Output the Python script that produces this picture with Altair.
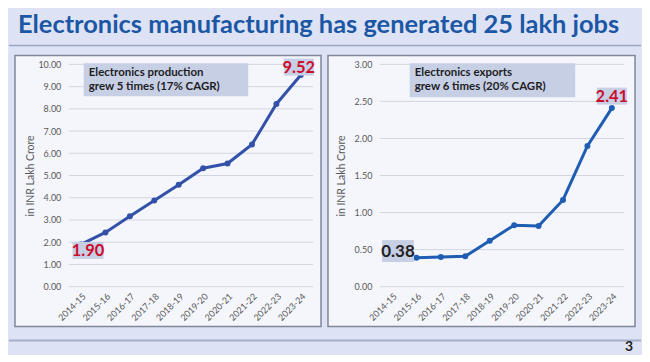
import altair as alt
import pandas as pd

# ---------------- data ----------------
years = ["2014-15", "2015-16", "2016-17", "2017-18", "2018-19",
         "2019-20", "2020-21", "2021-22", "2022-23", "2023-24"]
production = [1.90, 2.44, 3.17, 3.88, 4.58, 5.33, 5.54, 6.40, 8.22, 9.52]
exports = [0.38, 0.39, 0.40, 0.41, 0.62, 0.83, 0.82, 1.17, 1.90, 2.41]

title_text = "Electronics manufacturing has generated 25 lakh jobs"
left_note = ["Electronics production", "grew 5 times (17% CAGR)"]
right_note = ["Electronics exports", "grew 6 times (20% CAGR)"]
y_title = "in INR Lakh Crore"
page_number = "3"
left_ticks = [0, 1, 2, 3, 4, 5, 6, 7, 8, 9, 10]
right_ticks = [0, 0.5, 1.0, 1.5, 2.0, 2.5, 3.0]

# ---------------- style ----------------
FONT = "Lato"
BG = "#dde3f4"
PANEL_FILL = "#f4f6fc"
PANEL_STROKE = "#7f8799"
NOTE_FILL = "#c7cfe5"
AXIS_TXT = "#595959"
GRID = "#d3d6de"
RED = "#cc0e2e"
DARK = "#1d1d24"
W, H = 245, 223


def const(**enc):
    return alt.Chart(pd.DataFrame({"d": [0]})).encode(**enc)


def panel(values, ticks, domain, color, note, highlights, frame, notebox):
    df = pd.DataFrame({"year": years, "value": values})
    x = alt.X("year:N", sort=years,
              axis=alt.Axis(title=None, labelAngle=-45, labelFontSize=9,
                            labelColor=AXIS_TXT, labelPadding=5, ticks=False,
                            domain=False, grid=False, labelFont=FONT,
                            labelOverlap=False, zindex=2))
    yscale = alt.Scale(domain=domain, nice=False)
    y = alt.Y("value:Q", scale=yscale,
              axis=alt.Axis(values=ticks, format=".2f", title=y_title,
                            titleX=-38, titleY=H / 2, titleAngle=-90,
                            titleBaseline="middle", titleAlign="center",
                            titleFontSize=10.5, titleFontWeight="normal",
                            titleColor=AXIS_TXT, titleFont=FONT,
                            labelFontSize=9, labelColor=AXIS_TXT,
                            labelPadding=8, labelFont=FONT,
                            labelOverlap=False,
                            ticks=False, domain=False, grid=False,
                            zindex=2))
    fx0, fx1, fy0, fy1 = frame
    frame_rect = const(x=alt.value(fx0), x2=alt.value(fx1),
                       y=alt.value(fy0), y2=alt.value(fy1)).mark_rect(
        fill=PANEL_FILL, stroke=PANEL_STROKE, strokeWidth=1.5)
    grid = alt.Chart(pd.DataFrame({"value": ticks})).mark_rule(
        color=GRID, strokeWidth=1).encode(
        y=y, x=alt.value(0), x2=alt.value(W))
    nx0, nx1, ny0, ny1 = notebox
    note_rect = const(x=alt.value(nx0), x2=alt.value(nx1),
                      y=alt.value(ny0), y2=alt.value(ny1)).mark_rect(
        fill=NOTE_FILL)
    note1 = const(x=alt.value(nx0 + 5), y=alt.value(ny0 + 13),
                  text=alt.value(note[0])).mark_text(
        align="left", baseline="alphabetic", font=FONT, fontSize=11.5,
        fontWeight="bold", color=DARK)
    note2 = const(x=alt.value(nx0 + 5), y=alt.value(ny0 + 26.5),
                  text=alt.value(note[1])).mark_text(
        align="left", baseline="alphabetic", font=FONT, fontSize=11.5,
        fontWeight="bold", color=DARK)

    base = alt.Chart(df).encode(x=x, y=y)
    line = base.mark_line(color=color, strokeWidth=3)
    pts = base.mark_point(filled=True, size=36, color=color, opacity=1)

    layers = [frame_rect, grid, note_rect, line, pts]
    for idx, tcolor, dx, dy, bw, bh, fs in highlights:
        hd = df.iloc[[idx]]
        a = bh / bw
        hb = alt.Chart(hd).mark_point(
            shape=f"M-1,{-a:.4f}H1V{a:.4f}H-1Z", filled=True, size=bw * bw,
            color=NOTE_FILL, opacity=1, xOffset=dx, yOffset=dy,
        ).encode(x=x, y=y)
        ht = alt.Chart(hd).mark_text(
            font=FONT, fontSize=fs, fontWeight="bold", color=tcolor,
            align="center", baseline="middle", xOffset=dx, yOffset=dy + 0.5,
        ).encode(x=x, y=y, text=alt.Text("value:Q", format=".2f"))
        layers += [hb, ht]
    layers += [note1, note2]
    return layers


# left panel (coordinates relative to its plot area)
left_layers = panel(
    production, left_ticks, [0, 10], "#3351a8", left_note,
    [(0, RED, 7, 6, 31, 17, 16.5), (9, RED, -2, -8, 30, 17, 16.5)],
    frame=(-54, 253, -9, 263), notebox=(15, 180, -1, 32),
)
background = const(x=alt.value(-60), x2=alt.value(574),
                   y=alt.value(-56), y2=alt.value(290)).mark_rect(fill=BG)
title = const(x=alt.value(-51), y=alt.value(-31),
              text=alt.value(title_text)).mark_text(
    align="left", baseline="alphabetic", font=FONT, fontSize=25.5,
    fontWeight="bold", color="#1c57a5")
top_rule = const(x=alt.value(-60), x2=alt.value(574),
                 y=alt.value(-19)).mark_rule(color="#9aa6c4", strokeWidth=1.5)
bottom_rule = const(x=alt.value(-60), x2=alt.value(574),
                    y=alt.value(277)).mark_rule(color="#a3afcb", strokeWidth=2)

left = alt.layer(background, title, top_rule, bottom_rule,
                 *left_layers).properties(width=W, height=H)

right_layers = panel(
    exports, right_ticks, [0, 3], "#1f5db3", right_note,
    [(0, "#222222", 6, -7.5, 32, 22, 17), (9, RED, 0, -12, 30, 17, 16.5)],
    frame=(-52, 256, -9, 263), notebox=(30, 196, -1, 33),
)
page = const(x=alt.value(250), y=alt.value(288),
             text=alt.value(page_number)).mark_text(
    align="center", baseline="alphabetic", font=FONT, fontSize=14,
    fontWeight="bold", color="#222222")
right = alt.layer(*right_layers, page).properties(width=W, height=H)

chart = alt.hconcat(left, right, spacing=67, bounds="flush").properties(
    padding=0
).configure(background=BG, font=FONT).configure_view(stroke=None)

chart.save("out.html", embed_options={"renderer": "svg", "actions": False})
